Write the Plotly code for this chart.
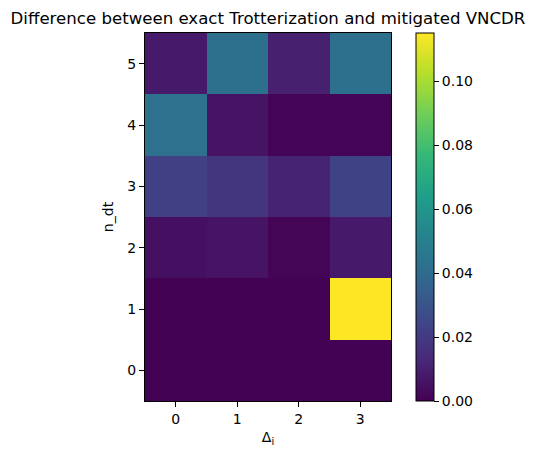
import plotly.graph_objects as go

delta_i = [0, 1, 2, 3]
n_dt = [0, 1, 2, 3, 4, 5]
# rows = n_dt 0..5, columns = Delta_i 0..3
diff = [
    [0.0002, 0.0002, 0.0002, 0.0002],
    [0.0002, 0.0002, 0.0002, 0.1150],
    [0.0050, 0.0060, 0.0012, 0.0080],
    [0.0220, 0.0180, 0.0110, 0.0230],
    [0.0430, 0.0060, 0.0010, 0.0010],
    [0.0080, 0.0425, 0.0100, 0.0425],
]
title = "Difference between exact Trotterization and mitigated VNCDR"

L, R, T, B = 145, 391, 33, 401
W, H = 535, 457

fig = go.Figure(go.Heatmap(
    z=diff, x=delta_i, y=n_dt, colorscale="Viridis", zmin=0, zmax=0.115,
    colorbar=dict(
        thickness=18, thicknessmode="pixels", len=B - T, lenmode="pixels",
        x=416 / W, xref="container", xanchor="left", y=0.5, yanchor="middle",
        outlinewidth=1, outlinecolor="black", xpad=0, ypad=0,
        tickvals=[0, 0.02, 0.04, 0.06, 0.08, 0.10],
        ticktext=["0.00", "0.02", "0.04", "0.06", "0.08", "0.10"],
        ticks="outside", ticklen=5, tickcolor="black",
        tickfont=dict(family="DejaVu Sans", size=14, color="black"),
    ),
))

axis_common = dict(showgrid=False, zeroline=False, showline=True, linecolor="black",
                   linewidth=1, mirror=True, ticks="outside", ticklen=5, tickcolor="black",
                   tickfont=dict(family="DejaVu Sans", size=14, color="black"))
fig.update_xaxes(range=[-0.5, 3.5], tickvals=delta_i, **axis_common,
                 title=dict(text="Δ<sub>i</sub>", font=dict(family="DejaVu Sans", size=14, color="black"), standoff=6))
fig.update_yaxes(range=[-0.5, 5.5], tickvals=n_dt, **axis_common,
                 title=dict(text="n_dt", font=dict(family="DejaVu Sans", size=14, color="black"), standoff=10))

fig.update_layout(
    width=W, height=H, margin=dict(l=L, r=W - R, t=T, b=H - B),
    plot_bgcolor="white", paper_bgcolor="white",
    title=dict(text=title, x=(L + R) / 2 / W, xanchor="center", y=1 - 18 / H, yanchor="middle",
               font=dict(family="DejaVu Sans", size=16.6, color="black")),
)
fig.write_html("out.html")
